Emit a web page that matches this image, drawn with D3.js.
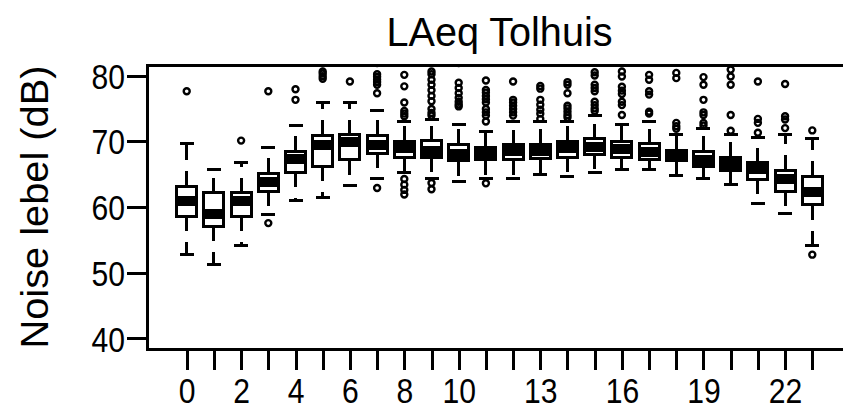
<!DOCTYPE html>
<html><head><meta charset="utf-8">
<script src="https://cdn.jsdelivr.net/npm/d3@7"></script>
<style>body{margin:0;background:#fff;overflow:hidden}</style>
</head><body><svg id="c" width="843" height="409"></svg>
<script>
// ---- data ----
const hours = d3.range(0, 24);
const xLabelTicks = [0, 2, 4, 6, 8, 10, 13, 16, 19, 22];
const yTicks = [40, 50, 60, 70, 80];
const lowerWhisker = [52.75, 51.25, 54.1, 58.9, 60.95, 61.45, 63.3, 64.4, 65.25, 64.4, 63.9, 64.4, 64.4, 64.9, 64.65, 65.2, 65.67, 65.67, 64.75, 64.4, 63.4, 60.5, 58.98, 54.12];
const q1 = [58.6, 57.05, 58.6, 62.4, 65.25, 66.2, 67.2, 68.2, 67.55, 67.55, 67.05, 67.2, 67.19, 67.44, 67.55, 68.0, 67.55, 67.19, 67.1, 66.2, 65.57, 64.25, 62.38, 60.35];
const median = [60.9, 58.9, 60.85, 63.8, 67.3, 69.5, 69.85, 69.5, 69.0, 68.55, 68.0, 68.15, 68.56, 68.5, 69.0, 69.1, 68.8, 68.3, 67.85, 67.2, 66.6, 65.77, 64.25, 62.33];
const q3 = [63.15, 62.15, 62.2, 65.15, 68.45, 70.9, 71.0, 70.9, 70.0, 70.1, 69.57, 69.1, 69.47, 69.57, 70.0, 70.4, 70.0, 69.62, 68.6, 68.46, 67.6, 66.7, 65.57, 64.66];
const upperWhisker = [69.6, 65.65, 66.8, 69.1, 72.4, 75.9, 75.9, 74.7, 73.0, 73.3, 72.5, 71.5, 73.0, 73.0, 73.0, 73.9, 72.5, 73.0, 71.0, 72.0, 71.0, 70.6, 71.0, 70.48];
const outliers = [
  [77.6],
  [],
  [70.1],
  [57.55, 77.6],
  [76.3, 77.9],
  [79.5, 79.9, 80.3, 80.6, 81.9],
  [79.1],
  [62.9, 77.3, 78.6, 79.0, 79.4, 79.8, 80.2, 81.9],
  [61.9, 62.6, 63.4, 64.25, 73.8, 74.2, 74.6, 75.9, 78.35, 80.1],
  [62.7, 63.65, 73.9, 74.3, 74.9, 76.1, 76.9, 77.75, 78.6, 79.35, 80.2, 80.6],
  [75.3, 75.6, 76.0, 76.6, 77.3, 78.1, 78.9, 81.9],
  [63.6, 73.0, 73.9, 74.4, 74.9, 75.9, 76.4, 76.9, 77.4, 77.8, 79.25],
  [73.9, 74.4, 74.9, 75.4, 75.9, 76.3, 79.1],
  [73.4, 74.2, 74.8, 75.55, 76.3, 78.0, 78.4],
  [73.6, 74.0, 74.5, 75.0, 75.4, 77.3, 78.6, 79.0],
  [74.6, 75.0, 75.5, 76.0, 77.6, 78.1, 78.6, 80.0, 80.5],
  [74.0, 75.5, 76.0, 77.2, 77.7, 78.3, 79.86, 80.6, 81.9],
  [74.2, 74.5, 77.1, 77.6, 79.35, 80.1],
  [71.9, 72.3, 72.8, 79.6, 80.4],
  [72.4, 72.8, 74.0, 74.4, 76.3, 78.6, 79.76],
  [71.6, 74.0, 78.6, 79.86, 80.9],
  [71.3, 72.8, 73.4, 79.1],
  [72.0, 73.3, 73.8, 78.7],
  [52.75, 71.65]
];
const titleText = "LAeq Tolhuis";
const yTitle = "Noise lebel (dB)";

// ---- layout ----
const L = 147, T = 65, R = 852, B = 349;
const FONT = '"Liberation Sans Narrow", "Liberation Sans", Arial, sans-serif';
const svg = d3.select("#c");
const x = d3.scaleLinear().domain([-1.46, 24.46]).range([L, R]);
const y = d3.scaleLinear().domain([38.4, 81.6]).range([B, T]);

svg.append("defs").append("clipPath").attr("id", "pc")
  .append("rect").attr("x", L).attr("y", T).attr("width", R - L).attr("height", B - T);

const plot = svg.append("g").attr("clip-path", "url(#pc)");
const boxW = 20, capW = 14, lw = 3;

const data = hours.map((h, i) => ({h, lo: lowerWhisker[i], q1: q1[i], med: median[i], q3: q3[i], hi: upperWhisker[i], out: outliers[i]}));

const g = plot.selectAll("g.box").data(data).join("g").attr("class", "box")
  .attr("shape-rendering", "crispEdges");
// whiskers (dashed, drawn from box outward)
g.append("line").attr("x1", d => x(d.h)).attr("x2", d => x(d.h))
  .attr("y1", d => y(d.q3)).attr("y2", d => y(d.hi))
  .attr("stroke", "#000").attr("stroke-width", lw).attr("stroke-dasharray", "15,11");
g.append("line").attr("x1", d => x(d.h)).attr("x2", d => x(d.h))
  .attr("y1", d => y(d.q1)).attr("y2", d => y(d.lo))
  .attr("stroke", "#000").attr("stroke-width", lw).attr("stroke-dasharray", "15,11");
// staples
g.append("line").attr("x1", d => x(d.h) - capW / 2).attr("x2", d => x(d.h) + capW / 2)
  .attr("y1", d => y(d.hi)).attr("y2", d => y(d.hi)).attr("stroke", "#000").attr("stroke-width", lw);
g.append("line").attr("x1", d => x(d.h) - capW / 2).attr("x2", d => x(d.h) + capW / 2)
  .attr("y1", d => y(d.lo)).attr("y2", d => y(d.lo)).attr("stroke", "#000").attr("stroke-width", lw);
// box
g.append("rect").attr("x", d => x(d.h) - boxW / 2).attr("width", boxW)
  .attr("y", d => y(d.q3)).attr("height", d => y(d.q1) - y(d.q3))
  .attr("fill", "#fff").attr("stroke", "#000").attr("stroke-width", lw);
// median
g.append("line").attr("x1", d => x(d.h) - boxW / 2 - lw / 2).attr("x2", d => x(d.h) + boxW / 2 + lw / 2)
  .attr("y1", d => y(d.med)).attr("y2", d => y(d.med)).attr("stroke", "#000").attr("stroke-width", 10);
// outliers
g.selectAll("circle").data(d => d.out.map(v => ({h: d.h, v}))).join("circle")
  .attr("shape-rendering", "auto")
  .attr("cx", d => x(d.h)).attr("cy", d => y(d.v)).attr("r", 3)
  .attr("fill", "none").attr("stroke", "#000").attr("stroke-width", 2.4);

// frame
svg.append("rect").attr("x", L).attr("y", T).attr("width", R - L).attr("height", B - T)
  .attr("fill", "none").attr("stroke", "#000").attr("stroke-width", 3).attr("shape-rendering", "crispEdges");

// axes
const ya = svg.append("g").attr("transform", `translate(${L},0)`)
  .call(d3.axisLeft(y).tickValues(yTicks).tickSize(20).tickPadding(2));
const xa = svg.append("g").attr("transform", `translate(0,${B})`)
  .call(d3.axisBottom(x).tickValues(hours).tickSize(21).tickPadding(8)
    .tickFormat(d => xLabelTicks.includes(d) ? String(d) : ""));
[ya, xa].forEach(a => {
  a.select(".domain").remove();
  a.selectAll(".tick line").attr("stroke", "#000").attr("stroke-width", 3).attr("shape-rendering", "crispEdges");
  a.selectAll(".tick text").attr("fill", "#000").style("font-family", FONT).style("font-size", "35px")
    .each(function () {
      const w = this.getComputedTextLength();
      if (w > 0) d3.select(this).attr("textLength", w * 0.86).attr("lengthAdjust", "spacingAndGlyphs");
    });
});
ya.selectAll(".tick text").attr("dy", "0.36em");

// titles
svg.append("text").attr("x", (L + R) / 2).attr("y", 46).attr("text-anchor", "middle")
  .style("font-family", FONT).style("font-size", "41px").attr("fill", "#000")
  .attr("textLength", 226).attr("lengthAdjust", "spacingAndGlyphs").text(titleText);
svg.append("text").attr("transform", "translate(48,207) rotate(-90)").attr("text-anchor", "middle")
  .style("font-family", FONT).style("font-size", "38px").attr("fill", "#000")
  .attr("textLength", 283).attr("lengthAdjust", "spacingAndGlyphs").text(yTitle);
</script></body></html>
